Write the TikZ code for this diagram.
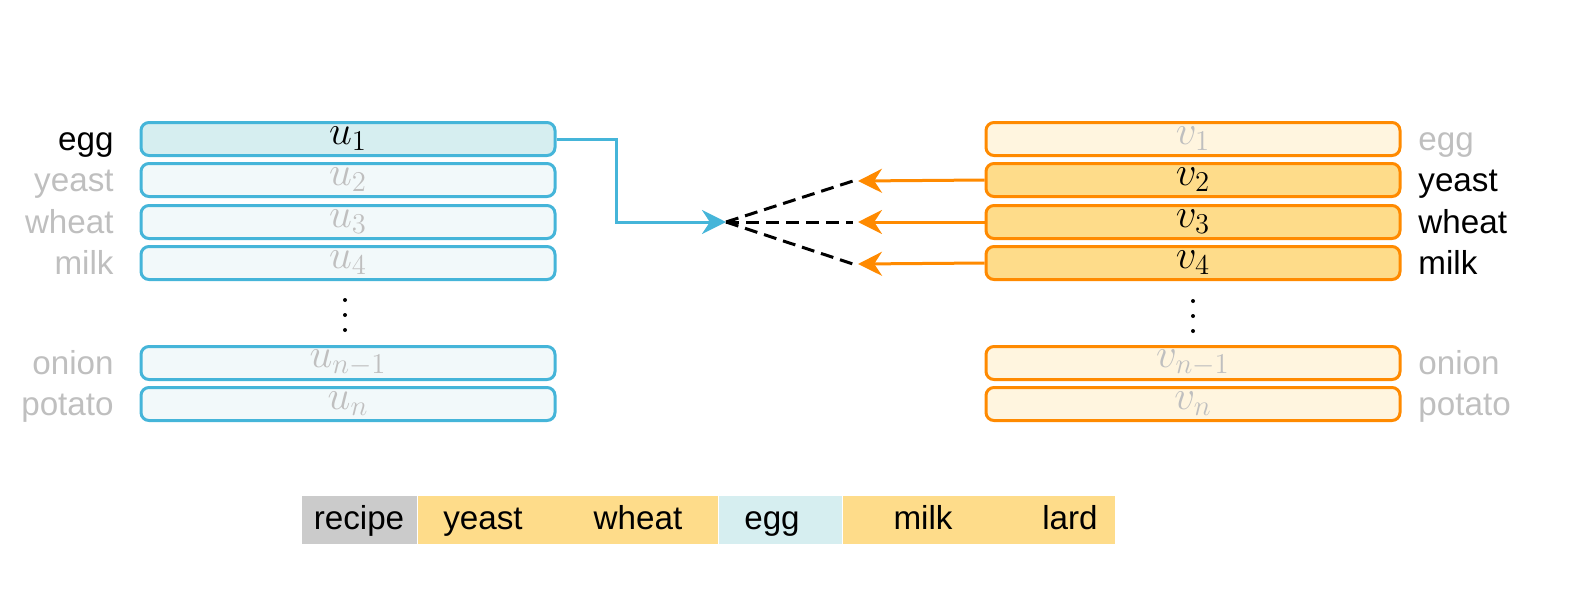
\documentclass[tikz,border=0pt]{standalone}
\usepackage{fix-cm}
\usepackage{fontspec}
\setmainfont{Liberation Sans}
\usetikzlibrary{arrows.meta}

\definecolor{ublue}{RGB}{69,181,217}
\definecolor{ufillA}{RGB}{214,238,240}
\definecolor{ufillB}{RGB}{242,249,250}
\definecolor{vorange}{RGB}{255,138,0}
\definecolor{vfillA}{RGB}{254,220,138}
\definecolor{vfillB}{RGB}{255,245,223}
\definecolor{dimtext}{RGB}{191,191,191}
\definecolor{recipegrey}{RGB}{203,203,203}

\tikzset{
  txt/.style={font=\fontsize{16.6pt}{20pt}\selectfont, inner sep=0pt},
  rowbox/.style={font=\fontsize{20.5pt}{24pt}\selectfont, inner sep=0pt,
    line width=1.5pt, rounded corners=4pt,
    minimum width=207pt, minimum height=16.5pt},
  ubox/.style={rowbox, draw=ublue, fill=ufillB, text=dimtext},
  uact/.style={rowbox, draw=ublue, fill=ufillA, text=black},
  vbox/.style={rowbox, draw=vorange, fill=vfillB, text=dimtext},
  vact/.style={rowbox, draw=vorange, fill=vfillA, text=black},
  leftlab/.style={txt, anchor=mid east, text=dimtext},
  rightlab/.style={txt, anchor=mid west, text=dimtext},
  cell/.style={inner sep=0pt, minimum height=24pt, anchor=west},
  word/.style={txt, anchor=mid},
  tip/.style={-{Stealth[length=12pt,width=12pt]}},
}

\begin{document}
\begin{tikzpicture}[x=0.5pt, y=-0.5pt]
\useasboundingbox (0,0) rectangle (1574,601);

% left column of u vectors
\node[uact] (u1) at (348,139) {$u_1$};
\node[ubox] (u2) at (348,180) {$u_2$};
\node[ubox] (u3) at (348,222) {$u_3$};
\node[ubox] (u4) at (348,263) {$u_4$};
\node[ubox] (un1) at (348,363) {$u_{n-1}$};
\node[ubox] (un) at (348,404) {$u_n$};

\node[leftlab, text=black] (la1) at (114,145) {egg};
\node[leftlab] (la2) at (114,186) {yeast};
\node[leftlab] (la3) at (114,228) {wheat};
\node[leftlab] (la4) at (114,269) {milk};
\node[leftlab] (la5) at (114,369) {onion};
\node[leftlab] (la6) at (114,410) {potato};

\foreach \y in {300,315,330} \fill (345,\y) circle (1pt);

% right column of v vectors
\node[vbox] (v1) at (1193,139) {$v_1$};
\node[vact] (v2) at (1193,180) {$v_2$};
\node[vact] (v3) at (1193,222) {$v_3$};
\node[vact] (v4) at (1193,263) {$v_4$};
\node[vbox] (vn1) at (1193,363) {$v_{n-1}$};
\node[vbox] (vn) at (1193,404) {$v_n$};

\node[rightlab] (ra1) at (1418,145) {egg};
\node[rightlab, text=black] (ra2) at (1418,186) {yeast};
\node[rightlab, text=black] (ra3) at (1418,228) {wheat};
\node[rightlab, text=black] (ra4) at (1418,269) {milk};
\node[rightlab] (ra5) at (1418,369) {onion};
\node[rightlab] (ra6) at (1418,410) {potato};

\foreach \y in {301,316,331} \fill (1193,\y) circle (1pt);

% query arrow and attention fan
\coordinate (hub) at (726,222);
\coordinate (bend) at (616,222);
\coordinate (d2) at (858,181);
\coordinate (d3) at (858,222);
\coordinate (d4) at (858,264);

\draw[ublue, line width=1.5pt, tip] (u1.east) -| (bend) -- (hub);

\draw[vorange, line width=1.5pt, tip] (v2.west) -- (d2);
\draw[vorange, line width=1.5pt, tip] (v3.west) -- (d3);
\draw[vorange, line width=1.5pt, tip] (v4.west) -- (d4);

\begin{scope}[line width=1.5pt, dash pattern=on 6.5pt off 3.5pt]
\draw (hub) -- ([xshift=-2.5pt]d2);
\draw (hub) -- ([xshift=-2.5pt]d3);
\draw (hub) -- ([xshift=-2.5pt]d4);
\end{scope}

% recipe strip
\node[cell, fill=recipegrey, minimum width=57.5pt] (c0) at (302,520) {};
\node[cell, fill=vfillA, minimum width=150pt] (c1) at (c0.east) {};
\node[cell, fill=ufillA, minimum width=61.5pt] (c2) at (c1.east) {};
\node[cell, fill=vfillA, minimum width=136pt] (c3) at (c2.east) {};

\node[word] (w0) at (359,524) {recipe};
\node[word] (w1) at (483,524) {yeast};
\node[word] (w2) at (638,524) {wheat};
\node[word] (w3) at (772,524) {egg};
\node[word] (w4) at (923,524) {milk};
\node[word] (w5) at (1070,524) {lard};
\end{tikzpicture}
\end{document}
